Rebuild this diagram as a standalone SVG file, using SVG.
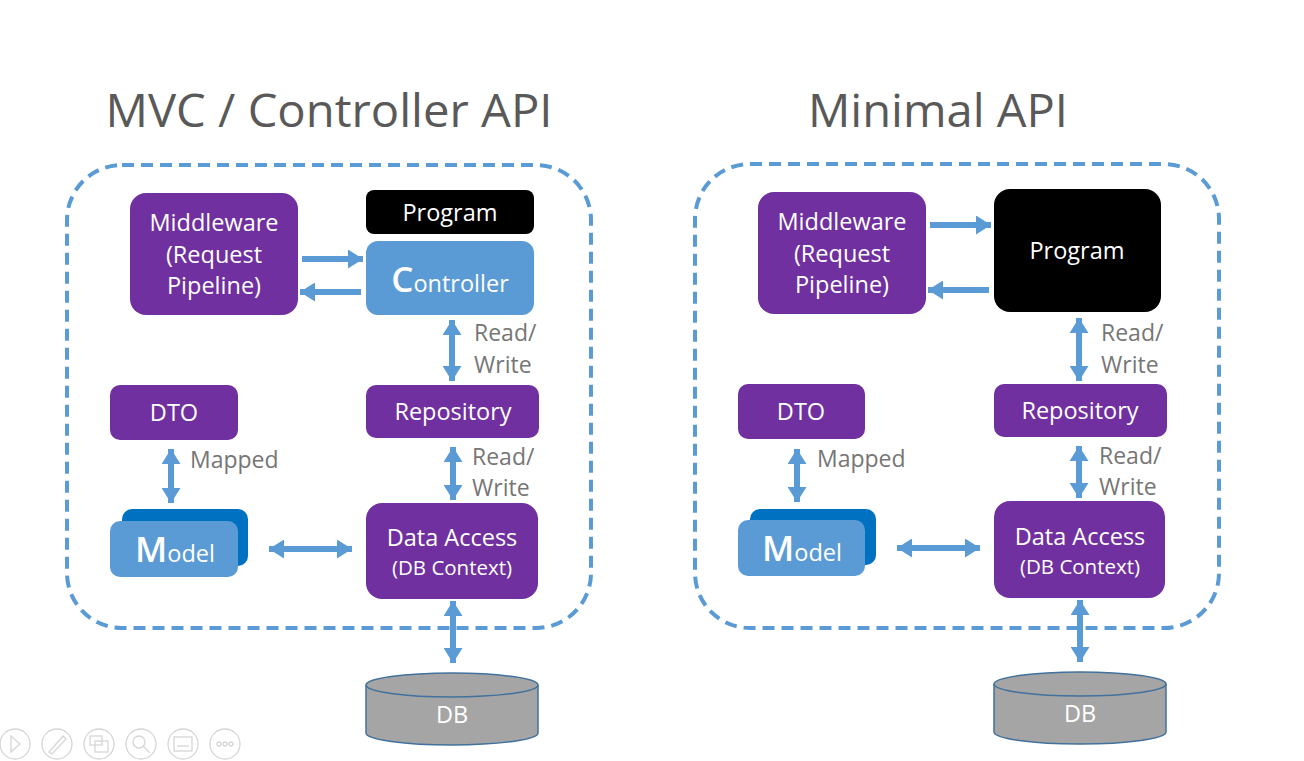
<svg xmlns="http://www.w3.org/2000/svg" width="1304" height="761" viewBox="0 0 1304 761">
<defs>
<marker id="ah" markerUnits="userSpaceOnUse" markerWidth="15" markerHeight="19" refX="15" refY="9.5" orient="auto-start-reverse">
<path d="M0,0 L15,9.5 L0,19 z" fill="#5B9BD5"/>
</marker>
<style>
.title{font-family:"Open Sans","Noto Sans",sans-serif;font-size:46px;fill:#595959;text-anchor:middle;font-weight:400}
.bx{font-family:"Open Sans","Noto Sans",sans-serif;font-size:23.5px;fill:#ffffff;text-anchor:middle}
.sm{font-size:20.5px}
.big{font-size:35px;font-weight:600}
.lbl{font-family:"Open Sans","Noto Sans",sans-serif;font-size:23px;fill:#767676}
.purple{fill:#7030A0}
.blue{fill:#5B9BD5}
.dblue{fill:#0070C0}
.black{fill:#000000}
.frame{fill:none;stroke:#5B9BD5;stroke-width:4;stroke-dasharray:12 7}
.conn{stroke:#5B9BD5;stroke-width:6;fill:none;marker-end:url(#ah)}
.dbl{marker-start:url(#ah)}
.db{fill:#A5A5A5;stroke:#41719C;stroke-width:1.5}
.ui{fill:none;stroke:#d6d6d6;stroke-width:1.3}
</style>
</defs>
<rect width="1304" height="761" fill="#ffffff"/>

<!-- Titles -->
<text class="title" x="329" y="127" textLength="447" lengthAdjust="spacingAndGlyphs">MVC / Controller API</text>
<text class="title" x="938" y="127" textLength="260" lengthAdjust="spacingAndGlyphs">Minimal API</text>

<!-- Frames -->
<rect class="frame" x="67" y="165" width="524" height="463" rx="55"/>
<rect class="frame" x="695" y="164" width="524" height="464" rx="55"/>

<!-- LEFT PANEL NODES -->
<g id="l-middleware">
<rect class="purple" x="130" y="193" width="168" height="122" rx="16"/>
<text class="bx" x="214" y="231">Middleware</text>
<text class="bx" x="214" y="263">(Request</text>
<text class="bx" x="214" y="294">Pipeline)</text>
</g>
<g id="l-program">
<rect class="black" x="366" y="190" width="168" height="44" rx="8"/>
<text class="bx" x="450" y="221">Program</text>
</g>
<g id="l-controller">
<rect class="blue" x="366" y="241" width="168" height="74" rx="12"/>
<text class="bx" x="450" y="292"><tspan class="big">C</tspan>ontroller</text>
</g>
<g id="l-repository">
<rect class="purple" x="366" y="385" width="173" height="53" rx="10"/>
<text class="bx" x="453" y="420">Repository</text>
</g>
<g id="l-dto">
<rect class="purple" x="110" y="385" width="128" height="55" rx="10"/>
<text class="bx" x="174" y="421">DTO</text>
</g>
<g id="l-model">
<rect class="dblue" x="122" y="509" width="126" height="57" rx="10"/>
<rect class="blue" x="110" y="521" width="128" height="56" rx="10"/>
<text class="bx" x="175" y="562"><tspan class="big">M</tspan>odel</text>
</g>
<g id="l-dataaccess">
<rect class="purple" x="366" y="503" width="172" height="96" rx="16"/>
<text class="bx" x="452" y="546">Data Access</text>
<text class="bx sm" x="452" y="575">(DB Context)</text>
</g>
<g id="l-db">
<path class="db" d="M366,685 L366,733 A86,12 0 0 0 538,733 L538,685"/>
<ellipse class="db" cx="452" cy="685" rx="86" ry="12"/>
<text class="bx" x="452" y="723">DB</text>
</g>

<!-- RIGHT PANEL NODES -->
<g id="r-middleware">
<rect class="purple" x="758" y="192" width="168" height="122" rx="16"/>
<text class="bx" x="842" y="230">Middleware</text>
<text class="bx" x="842" y="262">(Request</text>
<text class="bx" x="842" y="293">Pipeline)</text>
</g>
<g id="r-program">
<rect class="black" x="994" y="189" width="167" height="123" rx="16"/>
<text class="bx" x="1077" y="259">Program</text>
</g>
<g id="r-repository">
<rect class="purple" x="994" y="384" width="173" height="53" rx="10"/>
<text class="bx" x="1080" y="419">Repository</text>
</g>
<g id="r-dto">
<rect class="purple" x="738" y="384" width="127" height="55" rx="10"/>
<text class="bx" x="801" y="420">DTO</text>
</g>
<g id="r-model">
<rect class="dblue" x="750" y="509" width="126" height="56" rx="10"/>
<rect class="blue" x="738" y="520" width="127" height="56" rx="10"/>
<text class="bx" x="802" y="561"><tspan class="big">M</tspan>odel</text>
</g>
<g id="r-dataaccess">
<rect class="purple" x="994" y="501" width="171" height="97" rx="16"/>
<text class="bx" x="1080" y="545">Data Access</text>
<text class="bx sm" x="1080" y="574">(DB Context)</text>
</g>
<g id="r-db">
<path class="db" d="M994,684 L994,732 A86,12 0 0 0 1166,732 L1166,684"/>
<ellipse class="db" cx="1080" cy="684" rx="86" ry="12"/>
<text class="bx" x="1080" y="722">DB</text>
</g>

<!-- CONNECTORS -->
<g id="connectors">
<line class="conn" x1="302" y1="259" x2="363" y2="259"/>
<line class="conn" x1="361" y1="292" x2="300" y2="292"/>
<line class="conn dbl" x1="452" y1="320" x2="452" y2="381"/>
<line class="conn dbl" x1="171" y1="449" x2="171" y2="503"/>
<line class="conn dbl" x1="269" y1="549" x2="352" y2="549"/>
<line class="conn dbl" x1="453" y1="447" x2="453" y2="500"/>
<line class="conn dbl" x1="453" y1="601" x2="453" y2="663"/>

<line class="conn" x1="930" y1="225" x2="991" y2="225"/>
<line class="conn" x1="989" y1="290" x2="928" y2="290"/>
<line class="conn dbl" x1="1079" y1="318" x2="1079" y2="381"/>
<line class="conn dbl" x1="797" y1="449" x2="797" y2="502"/>
<line class="conn dbl" x1="897" y1="548" x2="980" y2="548"/>
<line class="conn dbl" x1="1079" y1="446" x2="1079" y2="498"/>
<line class="conn dbl" x1="1080" y1="600" x2="1080" y2="662"/>
</g>

<!-- Connector labels -->
<g id="labels">
<text class="lbl" x="474" y="341">Read/</text>
<text class="lbl" x="474" y="373">Write</text>
<text class="lbl" x="190" y="468">Mapped</text>
<text class="lbl" x="472" y="465">Read/</text>
<text class="lbl" x="472" y="496">Write</text>

<text class="lbl" x="1101" y="341">Read/</text>
<text class="lbl" x="1101" y="373">Write</text>
<text class="lbl" x="817" y="467">Mapped</text>
<text class="lbl" x="1099" y="464">Read/</text>
<text class="lbl" x="1099" y="495">Write</text>
</g>

<!-- Slideshow toolbar -->
<g id="toolbar">
<circle class="ui" cx="15" cy="744" r="15"/>
<path class="ui" d="M11,736 L20,744 L11,752 z"/>
<circle class="ui" cx="57" cy="744" r="15"/>
<path class="ui" d="M49,752 L63,736 L66,739 L52,754 z"/>
<circle class="ui" cx="99" cy="744" r="15"/>
<rect class="ui" x="90" y="736" width="12" height="9"/>
<rect class="ui" x="95" y="741" width="13" height="11"/>
<circle class="ui" cx="141" cy="744" r="15"/>
<circle class="ui" cx="139" cy="742" r="6"/>
<line class="ui" x1="143" y1="746" x2="150" y2="753"/>
<circle class="ui" cx="183" cy="744" r="15"/>
<rect class="ui" x="174" y="737" width="18" height="14"/>
<line class="ui" x1="177" y1="746" x2="189" y2="746"/>
<circle class="ui" cx="225" cy="744" r="15"/>
<circle class="ui" cx="219" cy="744" r="2"/>
<circle class="ui" cx="225" cy="744" r="2"/>
<circle class="ui" cx="231" cy="744" r="2"/>
</g>
</svg>
